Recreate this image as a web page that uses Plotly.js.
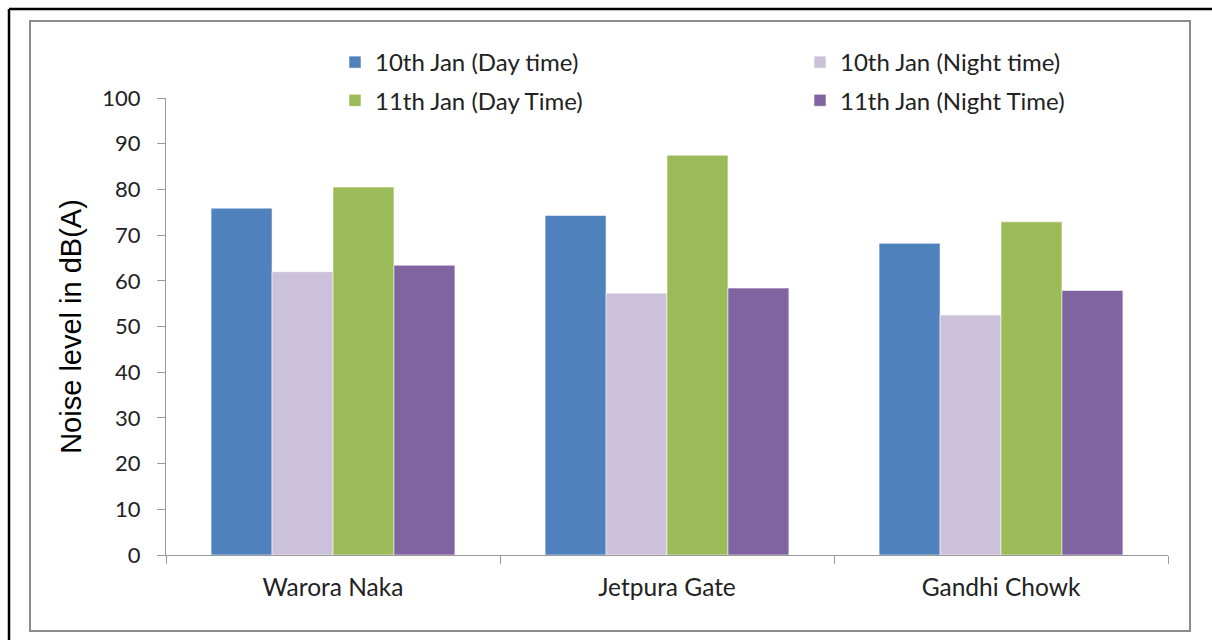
<!DOCTYPE html>
<html>
<head>
<meta charset="utf-8">
<script src="https://cdn.plot.ly/plotly-3.0.1.min.js"></script>
<style>
  html, body { margin: 0; padding: 0; background: #ffffff; }
  #chart { width: 1212px; height: 640px; }
</style>
</head>
<body>
<div id="chart"></div>
<script>
// Monitoring sites
const sites = ['Warora Naka', 'Jetpura Gate', 'Gandhi Chowk'];

// Noise levels, dB(A)
const jan10Day   = [75.9, 74.3, 68.2];
const jan10Night = [62.0, 57.3, 52.5];
const jan11Day   = [80.5, 87.5, 72.9];
const jan11Night = [63.4, 58.4, 57.9];

const seriesNames = ['10th Jan (Day time)', '10th Jan (Night time)', '11th Jan (Day Time)', '11th Jan (Night Time)'];
const seriesColors = ['#4f81bd', '#ccc1da', '#9bbb59', '#8064a2'];
const yTicks = [0, 10, 20, 30, 40, 50, 60, 70, 80, 90, 100];

// Page / plot-area geometry in pixels
const W = 1212, H = 640;
const M = { l: 166, r: 44, t: 98, b: 85 };
const PW = W - M.l - M.r, PH = H - M.t - M.b;
const px = v => (v - M.l) / PW;          // pixel x -> paper x
const py = v => (H - M.b - v) / PH;      // pixel y -> paper y

const values = [jan10Day, jan10Night, jan11Day, jan11Night];
const legendOf = ['legend', 'legend2', 'legend', 'legend2'];

const traces = values.map((vals, i) => ({
  type: 'bar',
  name: seriesNames[i],
  x: sites,
  y: vals,
  legend: legendOf[i],
  legendgroup: 'g' + i,
  marker: { color: seriesColors[i], line: { color: 'rgba(255,255,255,0.55)', width: 1 } },
  hoverinfo: 'x+y+name'
}));

const textFamily = 'Lato, "Open Sans", sans-serif';
const legendFont = { family: textFamily, size: 24, color: '#222222' };

const layout = {
  width: W, height: H,
  margin: M,
  paper_bgcolor: '#ffffff',
  plot_bgcolor: '#ffffff',
  barmode: 'group',
  bargap: 0.27,
  bargroupgap: 0,
  font: { family: textFamily, size: 22, color: '#222222' },
  xaxis: {
    type: 'category',
    showline: true, linecolor: '#9a9a9a', linewidth: 1,
    ticks: 'outside', tickson: 'boundaries', ticklen: 8, tickcolor: '#9a9a9a',
    showgrid: false, zeroline: false,
    tickfont: { family: textFamily, size: 24.5, color: '#222222' },
    ticklabelstandoff: 11,
    fixedrange: true
  },
  yaxis: {
    range: [0, 100],
    tickvals: yTicks,
    ticktext: yTicks.map(String),
    showline: true, linecolor: '#9a9a9a', linewidth: 1,
    ticks: 'outside', ticklen: 8, tickcolor: '#9a9a9a',
    showgrid: false, zeroline: false,
    tickfont: { family: textFamily, size: 22, color: '#222222' },
    ticklabelstandoff: 12,
    title: {
      text: 'Noise level in dB(A)',
      font: { family: '"Liberation Sans", Arial, sans-serif', size: 29, color: '#000000' },
      standoff: 12
    },
    fixedrange: true
  },
  legend: {
    x: px(335), y: py(40), xanchor: 'left', yanchor: 'top',
    orientation: 'v', bgcolor: 'rgba(0,0,0,0)', borderwidth: 0,
    font: legendFont, tracegroupgap: 4, itemclick: false, itemdoubleclick: false
  },
  legend2: {
    x: px(800), y: py(40), xanchor: 'left', yanchor: 'top',
    orientation: 'v', bgcolor: 'rgba(0,0,0,0)', borderwidth: 0,
    font: legendFont, tracegroupgap: 4, itemclick: false, itemdoubleclick: false
  },
  shapes: [
    // outer black frame (left and top edges)
    { type: 'line', xref: 'paper', yref: 'paper', x0: px(9), x1: px(9), y0: py(9), y1: py(645),
      line: { color: '#000000', width: 2.5 } },
    { type: 'line', xref: 'paper', yref: 'paper', x0: px(9), x1: px(1215), y0: py(9), y1: py(9),
      line: { color: '#000000', width: 2.5 } },
    // grey chart border
    { type: 'rect', xref: 'paper', yref: 'paper', x0: px(30), x1: px(1190), y0: py(631), y1: py(21),
      line: { color: '#8c8c8c', width: 2 }, fillcolor: 'rgba(0,0,0,0)', layer: 'below' }
  ]
};

Plotly.newPlot('chart', traces, layout, { displayModeBar: false, staticPlot: true });
</script>
</body>
</html>
